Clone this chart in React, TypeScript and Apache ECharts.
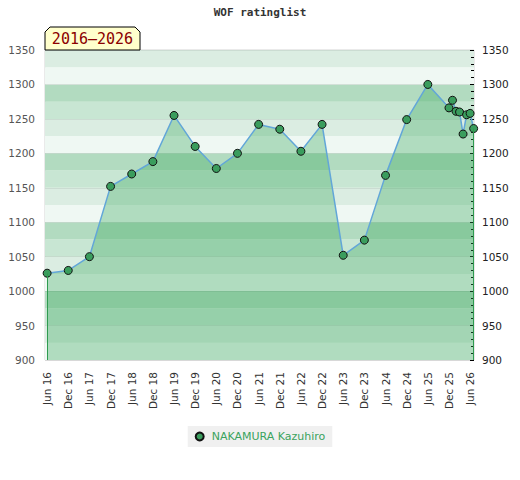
import React, { useEffect, useRef } from 'react';
import * as echarts from 'echarts';

const seriesName = 'NAKAMURA Kazuhiro';
const chartTitle = 'WOF ratinglist';
const periodLabel = '2016–2026';

const dates = [
  '2016-06', '2016-12', '2017-06', '2017-12', '2018-06', '2018-12', '2019-06',
  '2019-12', '2020-06', '2020-12', '2021-06', '2021-12', '2022-06', '2022-12',
  '2023-06', '2023-12', '2024-06', '2024-12', '2025-06', '2025-12', '2026-01',
  '2026-02', '2026-03', '2026-04', '2026-05', '2026-06', '2026-07',
];
const ratings = [
  1026, 1030, 1050, 1152, 1170, 1188, 1255,
  1210, 1178, 1200, 1242, 1235, 1203, 1242,
  1052, 1074, 1168, 1249, 1300, 1266, 1277,
  1261, 1260, 1228, 1256, 1258, 1236,
];
const tickDates = [
  '2016-06', '2016-12', '2017-06', '2017-12', '2018-06', '2018-12', '2019-06',
  '2019-12', '2020-06', '2020-12', '2021-06', '2021-12', '2022-06', '2022-12',
  '2023-06', '2023-12', '2024-06', '2024-12', '2025-06', '2025-12', '2026-06',
];
const monthNames = ['Jan', 'Feb', 'Mar', 'Apr', 'May', 'Jun', 'Jul', 'Aug', 'Sep', 'Oct', 'Nov', 'Dec'];
const yMin = 900;
const yMax = 1350;

function monthIndex(d: string): number {
  const [y, m] = d.split('-').map(Number);
  return (y - 2016) * 12 + (m - 6);
}
function dateLabel(d: string): string {
  const [y, m] = d.split('-').map(Number);
  return monthNames[m - 1] + ' ' + String(y).slice(2);
}

export default function App() {
  const ref = useRef<HTMLDivElement>(null);
  useEffect(() => {
    const chart = echarts.init(ref.current!, null, { renderer: 'svg' });
    const data = dates.map((d, i) => [monthIndex(d), ratings[i]]);
    const tickValues = tickDates.map(monthIndex);
    const labelMap: Record<number, string> = {};
    tickDates.forEach((d) => { labelMap[monthIndex(d)] = dateLabel(d); });
    const first = data[0];
    const last = data[data.length - 1];
    chart.setOption({
      animation: false,
      title: {
        text: chartTitle,
        left: 'center',
        top: 7,
        padding: 0,
        textStyle: { fontFamily: 'DejaVu Sans Mono', fontSize: 11, fontWeight: 'bold', color: '#333' },
      },
      legend: {
        data: [seriesName],
        left: 'center',
        top: 426,
        backgroundColor: '#f0f0f0',
        padding: [5, 7],
        icon: 'circle',
        itemWidth: 14,
        itemHeight: 8,
        textStyle: { color: '#3aa35e', fontSize: 11, fontFamily: 'DejaVu Sans' },
      },
      grid: {
        left: 45, right: 46, top: 50, bottom: 120,
        show: true, borderColor: '#d4d4d4', borderWidth: 1,
      },
      xAxis: {
        type: 'value',
        min: -0.6,
        max: 121.1,
        axisLine: { show: false },
        axisTick: { show: false },
        splitLine: { show: false },
        axisLabel: {
          customValues: tickValues,
          rotate: 90,
          margin: 12,
          color: '#333',
          fontSize: 10.5,
          fontFamily: 'DejaVu Sans',
          formatter: (v: number) => labelMap[Math.round(v)] ?? '',
        },
      },
      yAxis: [
        {
          type: 'value', position: 'left', min: yMin, max: yMax, interval: 25,
          axisLine: { show: false }, axisTick: { show: false },
          splitLine: { show: false },
          splitArea: { show: true, areaStyle: { color: ['#eff8f3', '#dbede2', '#c8e6d3', '#b2dbc0'] } },
          axisLabel: {
            margin: 10, color: '#555', fontSize: 10.5, fontFamily: 'DejaVu Sans',
            formatter: (v: number) => (v % 50 === 0 ? String(v) : ''),
          },
        },
        {
          type: 'value', position: 'right', min: yMin, max: yMax, interval: 50,
          axisLine: { show: false },
          axisTick: { show: true, inside: true, length: 4, lineStyle: { color: '#000' } },
          minorTick: { show: true, splitNumber: 5, length: 3, lineStyle: { color: '#000' } },
          splitLine: { show: true, lineStyle: { color: 'rgba(0,0,0,0.07)', width: 1 } },
          axisLabel: {
            margin: 8, color: '#222', fontSize: 10.5, fontFamily: 'DejaVu Sans',
            formatter: (v: number) => String(v),
          },
        },
      ],
      series: [
        {
          name: seriesName,
          type: 'line',
          data,
          yAxisIndex: 0,
          symbol: 'circle',
          symbolSize: 8,
          itemStyle: { color: '#3a9d5d', borderColor: '#111', borderWidth: 1 },
          lineStyle: { color: '#62a6d8', width: 1.5 },
          areaStyle: { color: 'rgba(52,166,88,0.48)', origin: 'start' },
          markLine: {
            silent: true,
            symbol: ['none', 'none'],
            label: { show: false },
            lineStyle: { color: '#2e9b4f', width: 1, type: 'solid' },
            data: [
              [{ coord: [first[0], first[1]] }, { coord: [first[0], yMin] }],
              [{ coord: [last[0], last[1]] }, { coord: [last[0], yMin] }],
            ],
          },
        },
      ],
      graphic: [
        {
          type: 'polygon',
          z: 100,
          shape: { points: [[45, 32], [50, 27], [135, 27], [140, 32], [140, 50], [45, 50]] },
          style: { fill: '#ffffcc', stroke: '#000', lineWidth: 1 },
        },
        {
          type: 'text',
          z: 101,
          x: 92.5,
          y: 39,
          style: {
            text: periodLabel,
            fill: '#8b0000',
            font: '15px "DejaVu Sans Mono"',
            align: 'center',
            verticalAlign: 'middle',
          },
        },
      ],
    });
    return () => chart.dispose();
  }, []);
  return <div ref={ref} style={{ position: 'absolute', left: 0, top: 0, width: 520, height: 480 }} />;
}
